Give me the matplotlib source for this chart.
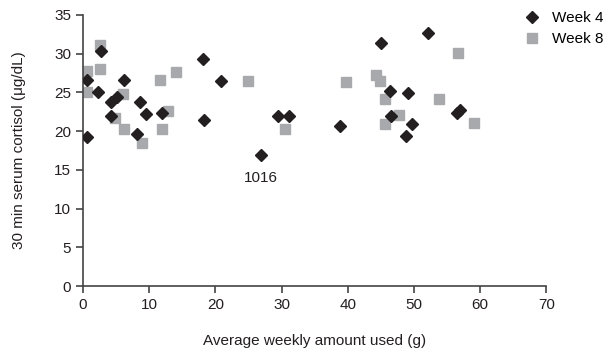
import matplotlib.pyplot as plt

plt.rcParams['font.family'] = ['Liberation Sans', 'DejaVu Sans']

# week 4 (diamonds)
w4_x = [0.65, 0.65, 2.66, 2.3, 4.2, 5.2, 6.2, 4.2, 8.6, 9.5, 8.2, 12.0, 18.1, 18.3,
        20.8, 26.9, 29.4, 31.1, 38.8, 45.1, 52.1, 46.4, 49.1, 46.5, 49.7, 48.8, 56.5, 57.0]
w4_y = [26.6, 19.3, 30.4, 25.1, 23.8, 24.4, 26.6, 22.0, 23.7, 22.2, 19.6, 22.3, 29.3, 21.4,
        26.5, 16.9, 21.9, 21.9, 20.6, 31.4, 32.6, 25.2, 24.9, 22.0, 20.9, 19.4, 22.3, 22.7]

# week 8 (squares)
w8_x = [0.65, 0.55, 2.56, 2.56, 6.1, 4.9, 6.2, 8.85, 12.8, 11.9, 11.6, 14.1, 25.0,
        30.5, 39.7, 44.2, 44.9, 45.6, 53.8, 47.8, 45.6, 56.7, 59.1]
w8_y = [27.8, 25.1, 31.1, 28.0, 24.8, 21.7, 20.3, 18.5, 22.6, 20.3, 26.6, 27.6, 26.4,
        20.3, 26.3, 27.3, 26.4, 24.1, 24.1, 22.1, 20.9, 30.1, 21.1]

fs = 11
txt = '#231f20'

fig = plt.figure(figsize=(6.08, 3.54), dpi=100)
ax = fig.add_axes([0.1365, 0.192, 0.762, 0.766])

ax.plot(w8_x, w8_y, 's', color='#a7a9ac', markersize=7, label='Week 8', zorder=2)
ax.plot(w4_x, w4_y, 'D', color=txt, markersize=5.8, label='Week 4', zorder=3)

ax.text(26.9, 14.0, '1016', ha='center', va='center', fontsize=fs, color=txt)

ax.set_xlim(0, 70)
ax.set_ylim(0, 35)
ax.set_xticks(range(0, 71, 10))
ax.set_yticks(range(0, 36, 5))
for s in ['top', 'right']:
    ax.spines[s].set_visible(False)
for s in ['left', 'bottom']:
    ax.spines[s].set_color('#444444')
    ax.spines[s].set_linewidth(1.2)
ax.tick_params(direction='out', length=5, width=1.2, color='#444444',
               labelsize=fs, labelcolor=txt)

ax.set_xlabel('Average weekly amount used (g)', fontsize=fs, color=txt, labelpad=16)
ax.set_ylabel('30 min serum cortisol (μg/dL)', fontsize=fs, color=txt, labelpad=20)

h, l = ax.get_legend_handles_labels()
fig.legend(h[::-1], l[::-1], loc='upper left', bbox_to_anchor=(524 / 608, 1 - 11 / 354),
           bbox_transform=fig.transFigure, frameon=False, fontsize=fs,
           handlelength=1.0, handletextpad=0.8, labelspacing=0.45,
           borderpad=0, borderaxespad=0)

fig.savefig('out.png', dpi=100)
